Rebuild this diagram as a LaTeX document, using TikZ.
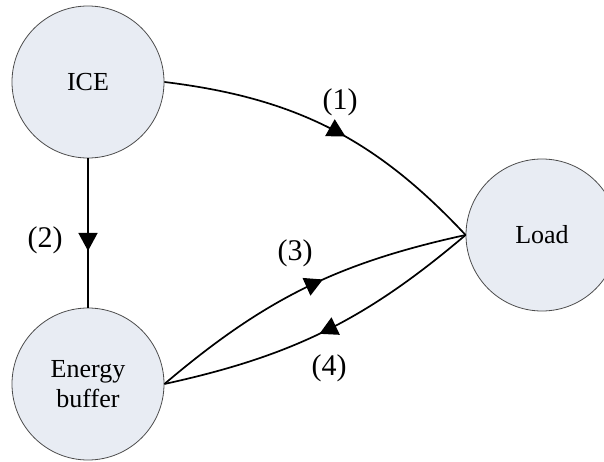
\documentclass[tikz,border=0pt]{standalone}
\usepackage{fontspec}
\setmainfont{Liberation Serif}
\usetikzlibrary{arrows.meta,decorations.markings}
\definecolor{nodefill}{RGB}{232,236,243}
\tikzset{
  unit/.style={circle,draw=black!70,line width=0.4pt,fill=nodefill,minimum size=76pt,inner sep=0pt,align=center,font=\fontsize{13}{15}\selectfont},
  flow/.style={line width=0.85pt,postaction={decorate},decoration={markings,mark=at position #1 with {\arrow{Triangle[length=9pt,width=9.5pt]}}}},
  num/.style={font=\fontsize{15}{18}\selectfont}
}
\begin{document}
\begin{tikzpicture}[x=0.5pt,y=0.5pt]
% pixel grid of the drawing, origin bottom left
\useasboundingbox (0,0) rectangle (604,461);
\clip (0,0) rectangle (604,461);
\node[unit] (ice) at (88,379) {ICE};
\node[unit] (buffer) at (88,77) {Energy\\buffer};
\node[unit] (load) at (542,226) {Load};
\draw[flow=0.55] (ice.east) to[bend left=20] (load.west);
\draw[flow=0.62] (ice.south) -- (buffer.north);
\draw[flow=0.56] (buffer.east) to[bend left=14] (load.west);
\draw[flow=0.52] (load.west) to[bend left=14] (buffer.east);
\node[num] (l1) at (340,359) {(1)};
\node[num] (l2) at (45,221) {(2)};
\node[num] (l3) at (295,208) {(3)};
\node[num] (l4) at (329,93) {(4)};
\end{tikzpicture}
\end{document}
